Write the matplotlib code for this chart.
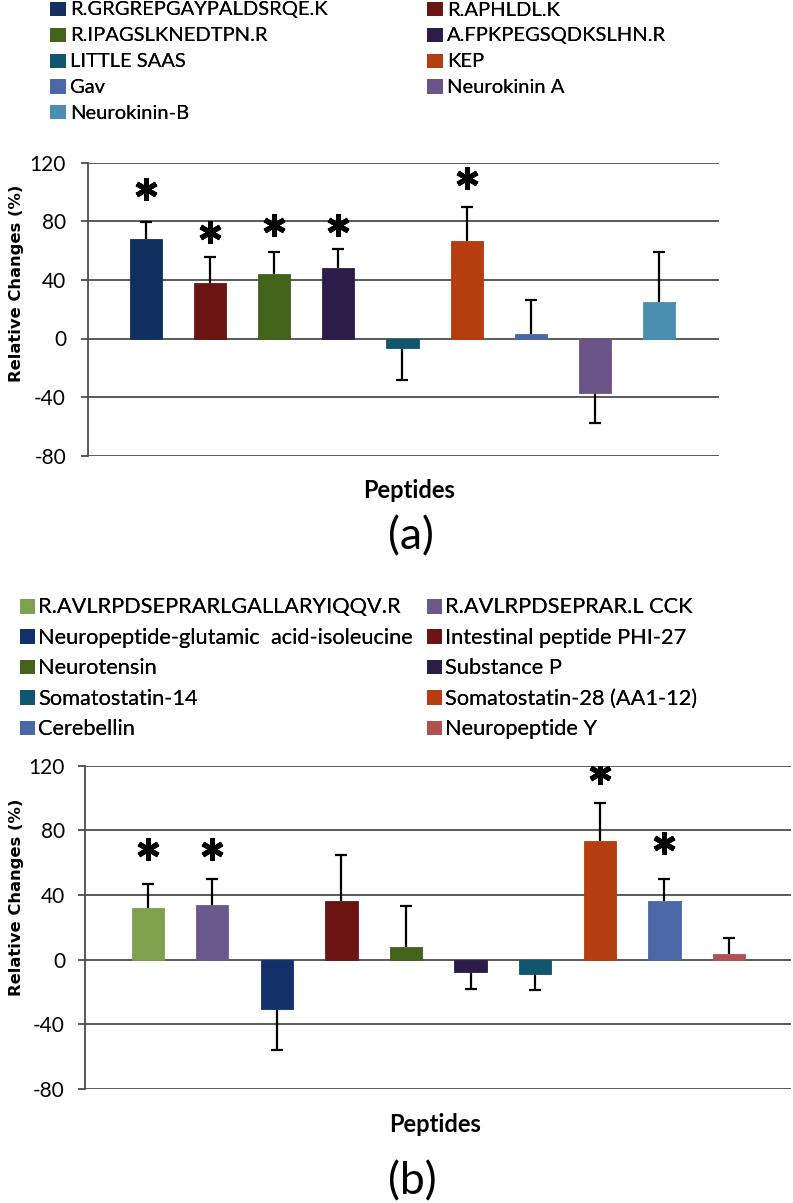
import matplotlib.pyplot as plt
import numpy as np

# ---- panel (a) data ----
peptides_a = ["R.GRGREPGAYPALDSRQE.K", "R.APHLDL.K", "R.IPAGSLKNEDTPN.R",
              "A.FPKPEGSQDKSLHN.R", "LITTLE SAAS", "KEP", "Gav",
              "Neurokinin A", "Neurokinin-B"]
values_a = [68.2, 38.0, 44.1, 48.4, -6.8, 66.4, 3.2, -37.3, 24.9]
errors_a = [11.5, 17.6, 15.0, 12.8, 21.7, 23.3, 22.8, 20.1, 33.9]
stars_a = [102, 73, 77.5, 77.3, None, 109.5, None, None, None]
colors_a = ["#11305f", "#6b1414", "#43621a", "#2d1b49", "#10566f",
            "#b53d0f", "#4a67a7", "#6b5588", "#4a8faf"]

# ---- panel (b) data ----
peptides_b = ["R.AVLRPDSEPRARLGALLARYIQQV.R", "R.AVLRPDSEPRAR.L CCK",
              "Neuropeptide-glutamic  acid-isoleucine", "Intestinal peptide PHI-27",
              "Neurotensin", "Substance P", "Somatostatin-14",
              "Somatostatin-28 (AA1-12)", "Cerebellin", "Neuropeptide Y"]
values_b = [32.0, 33.8, -30.3, 36.3, 8.0, -7.8, -8.7, 73.6, 36.3, 3.3]
errors_b = [15.0, 15.9, 25.8, 28.7, 25.0, 10.1, 10.3, 23.5, 13.8, 9.9]
stars_b = [68.5, 68.5, None, None, None, None, None, 115.3, 72, None]
colors_b = ["#7ea04f", "#6a5a8c", "#13306a", "#6b1414", "#43621a",
            "#2d1b49", "#10566f", "#b53d0f", "#4a67a7", "#b05252"]

yticks = [-80, -40, 0, 40, 80, 120]

W, H = 793, 1203
fig = plt.figure(figsize=(W / 100, H / 100), dpi=100)
LAB = ["Lato", "DejaVu Sans"]
GRID = "#4d4d4d"


def draw_panel(ax, values, errors, stars, colors, xlim, tick_pad, tick_len, ylab_xy):
    """ Draw one bar panel with one-sided error bars and significance stars. """
    x = np.arange(len(values))
    vals = np.array(values)
    errs = np.array(errors)
    lower = np.where(vals < 0, errs, 0)
    upper = np.where(vals >= 0, errs, 0)
    # one-sided whiskers, cap only at the outer end
    ax.errorbar(x, vals, yerr=[lower, upper], fmt="none", ecolor="black",
                elinewidth=1.6, capsize=0, zorder=1.5)
    tips = np.where(vals < 0, vals - errs, vals + errs)
    ax.plot(x, tips, marker="_", ms=9, mew=1.6, color="black", ls="none", zorder=1.6)
    bars = ax.bar(x, vals, width=0.5, color=colors, edgecolor=colors,
                  linewidth=0.6, zorder=2)
    for xi, s in zip(x, stars):
        if s is not None:
            ax.plot(xi, s, marker=(6, 2, 0), ms=16, mew=3.6, color="black",
                    ls="none", zorder=3)
    ax.set_xlim(*xlim)
    ax.set_ylim(-80, 120)
    ax.set_yticks(yticks)
    ax.set_yticklabels([str(t) for t in yticks], family=LAB, fontsize=15)
    ax.set_xticks([])
    ax.set_axisbelow(True)
    ax.grid(axis="y", color=GRID, linewidth=1.3)
    for side in ["top", "right", "bottom"]:
        ax.spines[side].set_visible(False)
    ax.spines["left"].set_color(GRID)
    ax.spines["left"].set_linewidth(1.3)
    ax.tick_params(axis="y", length=tick_len, width=1.3, color=GRID, pad=tick_pad)
    ax.set_ylabel("Relative Changes (%)", family="DejaVu Sans",
                  fontweight="bold", fontsize=11.8)
    ax.yaxis.set_label_coords(*ylab_xy)
    return bars


def add_legend(bars, labels, fs, x_cols, y_top, spacing, hlen, hh, pad):
    """ Two fixed columns, filled row by row. """
    for c, xc in enumerate(x_cols):
        idx = list(range(c, len(labels), 2))
        leg = fig.legend([bars[i] for i in idx], [labels[i] for i in idx],
                         loc="upper left", bbox_to_anchor=(xc / W, 1 - y_top / H),
                         frameon=False, borderpad=0, borderaxespad=0,
                         handlelength=hlen, handleheight=hh, handletextpad=pad,
                         labelspacing=spacing, prop={"family": LAB, "size": fs})
        fig.add_artist(leg)


# panel (a)
ax_a = fig.add_axes([88 / W, 1 - 455.7 / H, (719 - 88) / W, 293 / H])
bars_a = draw_panel(ax_a, values_a, errors_a, stars_a, colors_a, (-0.904, 8.936),
                    10.8, 5, (-0.1014, 0.589))
add_legend(bars_a, peptides_a, 14.5, [50, 427], 1.5, 0.44, 0.75, 0.62, 0.25)
fig.text(409 / W, 1 - 491 / H, "Peptides", ha="center", va="center",
         family=LAB, fontweight="bold", fontsize=17)
fig.text(411 / W, 1 - 537 / H, "(a)", ha="center", va="center",
         family=LAB, fontsize=32)

# panel (b)
ax_b = fig.add_axes([85 / W, 1 - 1089 / H, (791 - 85) / W, 323.3 / H])
bars_b = draw_panel(ax_b, values_b, errors_b, stars_b, colors_b, (-0.97, 9.96),
                    9.6, 4.8, (-0.0864, 0.594))
add_legend(bars_b, peptides_b, 15.7, [20, 427], 597.3, 0.48, 0.65, 0.6, 0.18)
fig.text(435 / W, 1 - 1125 / H, "Peptides", ha="center", va="center",
         family=LAB, fontweight="bold", fontsize=17)
fig.text(412 / W, 1 - 1182 / H, "(b)", ha="center", va="center",
         family=LAB, fontsize=32)

fig.savefig("out.png", dpi=100)
